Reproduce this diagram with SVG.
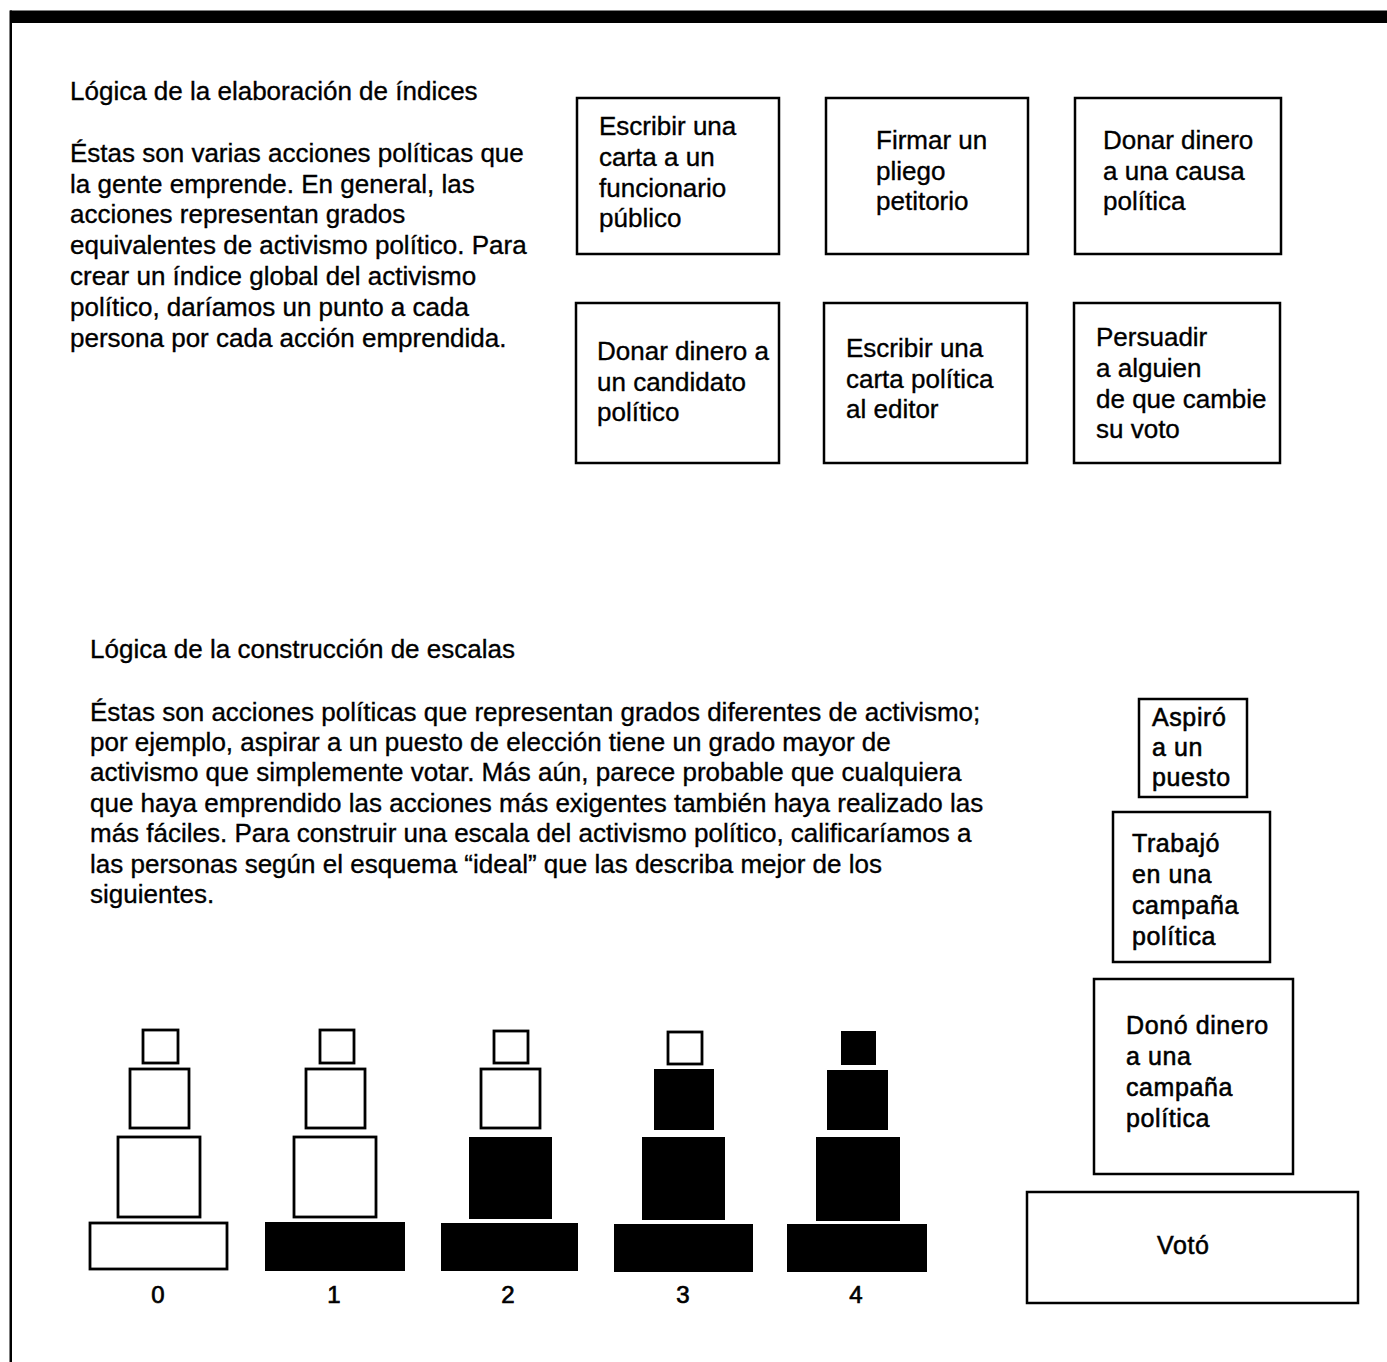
<svg xmlns="http://www.w3.org/2000/svg" width="1387" height="1362" viewBox="0 0 1387 1362">
<style>
text{font-family:"Liberation Sans",Arial,Helvetica,sans-serif;fill:#000;stroke:#000;stroke-width:0.35}
.t{font-size:26px}
.bx{font-size:26px}
.rs{font-size:25px;letter-spacing:0.6px;stroke-width:0.55}
.lb{font-size:24px;text-anchor:middle;stroke-width:0.7}
.box{fill:#fff;stroke:#000;stroke-width:2.5}
.o{fill:#fff;stroke:#000;stroke-width:2.8}
.f{fill:#000;stroke:none}
</style>
<rect x="0" y="0" width="1387" height="1362" fill="#fff"/>
<rect id="topband" x="10" y="10.5" width="1377" height="12.5" fill="#000"/>
<rect id="leftborder" x="9.5" y="10.5" width="2.5" height="1351.5" fill="#000"/>

<g id="sec1-text">
<text class="t" x="70" y="100">Lógica de la elaboración de índices</text>
<text class="t" x="70" y="162">Éstas son varias acciones políticas que</text>
<text class="t" x="70" y="193">la gente emprende. En general, las</text>
<text class="t" x="70" y="223">acciones representan grados</text>
<text class="t" x="70" y="254">equivalentes de activismo político. Para</text>
<text class="t" x="70" y="285">crear un índice global del activismo</text>
<text class="t" x="70" y="316">político, daríamos un punto a cada</text>
<text class="t" x="70" y="347">persona por cada acción emprendida.</text>
</g>

<g id="box-carta-funcionario">
<rect class="box" x="577" y="98" width="202" height="156"/>
<text class="bx" x="599" y="135">Escribir una</text>
<text class="bx" x="599" y="166">carta a un</text>
<text class="bx" x="599" y="197">funcionario</text>
<text class="bx" x="599" y="227">público</text>
</g>
<g id="box-pliego">
<rect class="box" x="826" y="98" width="202" height="156"/>
<text class="bx" x="876" y="149">Firmar un</text>
<text class="bx" x="876" y="180">pliego</text>
<text class="bx" x="876" y="210">petitorio</text>
</g>
<g id="box-causa">
<rect class="box" x="1075" y="98" width="206" height="156"/>
<text class="bx" x="1103" y="149">Donar dinero</text>
<text class="bx" x="1103" y="180">a una causa</text>
<text class="bx" x="1103" y="210">política</text>
</g>
<g id="box-candidato">
<rect class="box" x="576" y="303" width="203" height="160"/>
<text class="bx" x="597" y="360">Donar dinero a</text>
<text class="bx" x="597" y="391">un candidato</text>
<text class="bx" x="597" y="421">político</text>
</g>
<g id="box-editor">
<rect class="box" x="824" y="303" width="203" height="160"/>
<text class="bx" x="846" y="357">Escribir una</text>
<text class="bx" x="846" y="388">carta política</text>
<text class="bx" x="846" y="418">al editor</text>
</g>
<g id="box-persuadir">
<rect class="box" x="1074" y="303" width="206" height="160"/>
<text class="bx" x="1096" y="346">Persuadir</text>
<text class="bx" x="1096" y="377">a alguien</text>
<text class="bx" x="1096" y="408">de que cambie</text>
<text class="bx" x="1096" y="438">su voto</text>
</g>

<g id="sec2-text">
<text class="t" x="90" y="658">Lógica de la construcción de escalas</text>
<text class="t" x="90" y="721">Éstas son acciones políticas que representan grados diferentes de activismo;</text>
<text class="t" x="90" y="751">por ejemplo, aspirar a un puesto de elección tiene un grado mayor de</text>
<text class="t" x="90" y="781">activismo que simplemente votar. Más aún, parece probable que cualquiera</text>
<text class="t" x="90" y="812">que haya emprendido las acciones más exigentes también haya realizado las</text>
<text class="t" x="90" y="842">más fáciles. Para construir una escala del activismo político, calificaríamos a</text>
<text class="t" x="90" y="873">las personas según el esquema “ideal” que las describa mejor de los</text>
<text class="t" x="90" y="903">siguientes.</text>
</g>

<g id="pyramid-0">
<rect class="o" x="143" y="1030" width="35" height="33"/>
<rect class="o" x="130" y="1069" width="59" height="59"/>
<rect class="o" x="118" y="1137" width="82" height="80"/>
<rect class="o" x="90" y="1223" width="137" height="46"/>
<text class="lb" x="158" y="1303">0</text>
</g>
<g id="pyramid-1">
<rect class="o" x="320" y="1030" width="34" height="33"/>
<rect class="o" x="306" y="1069" width="59" height="59"/>
<rect class="o" x="294" y="1137" width="82" height="80"/>
<rect class="f" x="265" y="1222" width="140" height="49"/>
<text class="lb" x="334" y="1303">1</text>
</g>
<g id="pyramid-2">
<rect class="o" x="494" y="1031" width="34" height="32"/>
<rect class="o" x="481" y="1069" width="59" height="59"/>
<rect class="f" x="469" y="1137" width="83" height="82"/>
<rect class="f" x="441" y="1223" width="137" height="48"/>
<text class="lb" x="508" y="1303">2</text>
</g>
<g id="pyramid-3">
<rect class="o" x="668" y="1032" width="34" height="32"/>
<rect class="f" x="654" y="1069" width="60" height="61"/>
<rect class="f" x="642" y="1137" width="83" height="83"/>
<rect class="f" x="614" y="1224" width="139" height="48"/>
<text class="lb" x="683" y="1303">3</text>
</g>
<g id="pyramid-4">
<rect class="f" x="841" y="1031" width="35" height="34"/>
<rect class="f" x="827" y="1070" width="61" height="60"/>
<rect class="f" x="816" y="1137" width="84" height="84"/>
<rect class="f" x="787" y="1224" width="140" height="48"/>
<text class="lb" x="856" y="1303">4</text>
</g>

<g id="stack-aspiro">
<rect class="box" x="1139" y="699" width="108" height="98"/>
<text class="rs" x="1152" y="726">Aspiró</text>
<text class="rs" x="1152" y="756">a un</text>
<text class="rs" x="1152" y="786">puesto</text>
</g>
<g id="stack-trabajo">
<rect class="box" x="1113" y="812" width="157" height="150"/>
<text class="rs" x="1132" y="852">Trabajó</text>
<text class="rs" x="1132" y="883">en una</text>
<text class="rs" x="1132" y="914">campaña</text>
<text class="rs" x="1132" y="945">política</text>
</g>
<g id="stack-dono">
<rect class="box" x="1094" y="979" width="199" height="195"/>
<text class="rs" x="1126" y="1034">Donó dinero</text>
<text class="rs" x="1126" y="1065">a una</text>
<text class="rs" x="1126" y="1096">campaña</text>
<text class="rs" x="1126" y="1127">política</text>
</g>
<g id="stack-voto">
<rect class="box" x="1027" y="1192" width="331" height="111"/>
<text class="rs" x="1157" y="1254">Votó</text>
</g>
</svg>
